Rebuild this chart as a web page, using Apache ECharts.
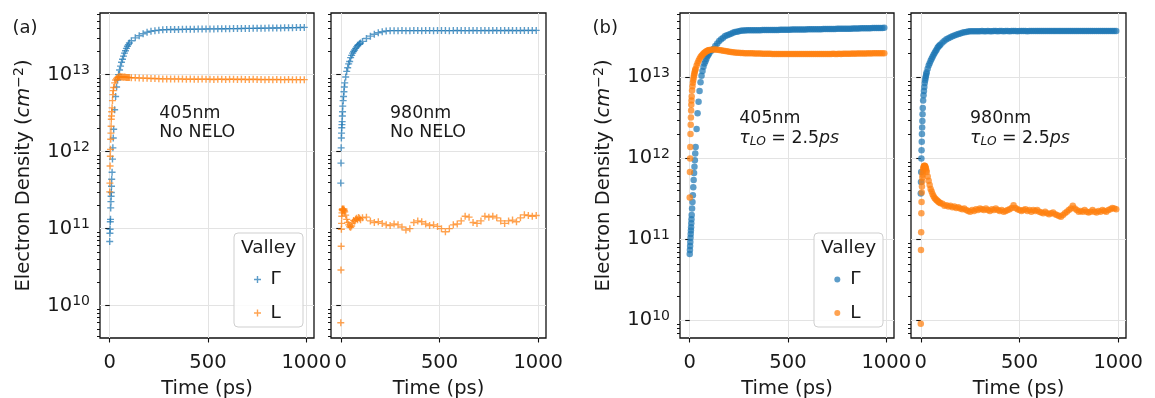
<!DOCTYPE html>
<html><head><meta charset="utf-8">
<script src="https://cdn.jsdelivr.net/npm/echarts@6/dist/echarts.min.js"></script>
<style>html,body{margin:0;padding:0;background:#fff}#c{width:1155px;height:398px}</style>
</head><body><div id="c"></div><script>
// ---------------- data ----------------
const tA = [0,1,2,3,4,5,6,7,8,9,10,12,14,16,18,20,25,30,35,40,45,50,55,60,65,70,75,80,85,90,95,100,
  110,130,150,170,190,210,230,250,270,290,310,330,350,370,390,410,430,450,470,490,510,530,550,570,590,
  610,630,650,670,690,710,730,750,770,790,810,830,850,870,890,910,930,950,970,990];
const gamma405a = [6.8e10,8.7e10,9.8e10,1.23e11,1.32e11,1.86e11,2.24e11,2.63e11,2.95e11,3.55e11,4.37e11,
  5.4e11,8.0e11,1.12e12,1.5e12,1.95e12,
  3.5e12,5.2e12,6.9e12,8.5e12,1.0e13,1.15e13,1.29e13,1.45e13,1.58e13,1.74e13,1.9e13,2.04e13,2.19e13,2.34e13,2.45e13,2.57e13,
  2.75e13,3.0e13,3.2e13,3.4e13,3.55e13,3.65e13,3.72e13,3.78e13,3.82e13,3.84e13,
  3.85e13,3.86e13,3.86e13,3.87e13,3.88e13,3.88e13,3.89e13,3.9e13,3.9e13,3.91e13,3.92e13,3.92e13,3.93e13,3.94e13,3.94e13,
  3.95e13,3.96e13,3.96e13,3.97e13,3.98e13,3.98e13,3.99e13,4.0e13,4.0e13,4.01e13,4.02e13,4.03e13,4.03e13,4.04e13,4.05e13,
  4.06e13,4.07e13,4.08e13,4.09e13,4.1e13];
const L405a = [3.0e11,3.9e11,6.5e11,8.7e11,1.07e12,1.45e12,1.74e12,2.14e12,2.63e12,2.9e12,3.3e12,
  3.7e12,4.6e12,5.5e12,6.2e12,6.8e12,
  7.8e12,8.5e12,8.9e12,9.2e12,9.3e12,9.35e12,9.35e12,9.3e12,9.3e12,9.25e12,9.3e12,9.25e12,9.2e12,9.2e12,9.2e12,9.15e12,
  9.1e12,9.1e12,9.05e12,9.0e12,8.95e12,8.9e12,8.9e12,8.85e12,8.8e12,8.8e12,8.8e12,8.75e12,8.8e12,8.75e12,8.7e12,
  8.75e12,8.7e12,8.7e12,8.75e12,8.7e12,8.7e12,8.65e12,8.7e12,8.7e12,8.65e12,8.7e12,8.7e12,8.65e12,8.7e12,8.65e12,
  8.65e12,8.7e12,8.65e12,8.65e12,8.6e12,8.65e12,8.6e12,8.65e12,8.6e12,8.6e12,8.65e12,8.6e12,8.6e12,8.6e12,8.6e12];
const gamma980a = [3.9e11,7.1e11,1.12e12,1.5e12,1.74e12,2.04e12,2.24e12,2.45e12,2.9e12,3.3e12,3.9e12,
  4.6e12,5.2e12,6.0e12,6.9e12,7.8e12,
  9.3e12,1.1e13,1.23e13,1.38e13,1.48e13,1.66e13,1.78e13,1.9e13,2.0e13,2.09e13,2.19e13,2.29e13,2.4e13,2.45e13,2.51e13,2.57e13,
  2.7e13,2.95e13,3.16e13,3.35e13,3.5e13,3.6e13,3.68e13,3.72e13,
  3.72e13,3.72e13,3.73e13,3.72e13,3.72e13,3.73e13,3.73e13,3.72e13,3.73e13,3.73e13,3.72e13,3.73e13,3.73e13,3.73e13,3.72e13,
  3.73e13,3.74e13,3.73e13,3.73e13,3.73e13,3.74e13,3.73e13,3.73e13,3.74e13,3.73e13,3.74e13,3.74e13,3.73e13,3.74e13,3.74e13,
  3.74e13,3.73e13,3.74e13,3.74e13,3.75e13,3.74e13,3.75e13];
const L980a = [6.0e9,2.9e10,5.9e10,9.8e10,1.17e11,1.45e11,1.6e11,1.78e11,1.72e11,1.8e11,1.75e11,
  1.78e11,1.7e11,1.8e11,1.72e11,1.65e11,
  1.5e11,1.32e11,1.2e11,1.12e11,1.06e11,1.04e11,1.08e11,1.18e11,1.28e11,1.25e11,1.32e11,1.36e11,1.3e11,1.4e11,1.36e11,1.3e11,
  1.38e11,1.41e11,1.26e11,1.2e11,1.23e11,1.17e11,1.12e11,1.1e11,1.15e11,1.12e11,1.05e11,9.6e10,1.0e11,1.2e11,1.26e11,
  1.23e11,1.15e11,1.1e11,1.12e11,1.07e11,1.0e11,9.1e10,1.0e11,1.12e11,1.15e11,1.26e11,1.45e11,1.41e11,1.2e11,1.17e11,
  1.26e11,1.45e11,1.41e11,1.45e11,1.38e11,1.26e11,1.17e11,1.26e11,1.29e11,1.23e11,1.38e11,1.51e11,1.48e11,1.45e11,1.48e11];

const tB = [0,1,2,3,4,5,6,7,8,9,10,12,14,16,18,20,22,24,26,28,30,35,40,45,50,55,60,65,70,75,80,85,90,95,100,
  110,120,130,140,150,160,170,180,190,200,210,220,230,240,250,260,270,280,290,300,310,320,330,340,350,
  360,370,380,390,400,410,420,430,440,450,460,470,480,490,500,510,520,530,540,550,560,570,580,590,600,
  610,620,630,640,650,660,670,680,690,700,710,720,730,740,750,760,770,780,790,800,810,820,830,840,850,
  860,870,880,890,900,910,920,930,940,950,960,970,980,990];
const gamma405b = [6.6e10,7.4e10,8.3e10,9.3e10,1.05e11,1.17e11,1.29e11,1.41e11,1.58e11,1.78e11,2.0e11,
  2.4e11,2.9e11,3.5e11,4.4e11,5.4e11,6.6e11,7.9e11,9.5e11,1.15e12,1.38e12,
  2.3e12,3.6e12,5.0e12,6.8e12,8.7e12,1.05e13,1.2e13,1.35e13,1.48e13,1.58e13,1.7e13,1.82e13,1.9e13,2.0e13,
  2.14e13,2.24e13,2.45e13,2.63e13,2.82e13,2.95e13,3.09e13,3.24e13,3.31e13,3.39e13,3.47e13,3.55e13,3.63e13,3.67e13,3.72e13,3.76e13,3.8e13,
  3.8e13,3.81e13,3.81e13,3.82e13,3.82e13,3.82e13,3.83e13,3.83e13,
  3.83e13,3.84e13,3.84e13,3.84e13,3.85e13,3.85e13,3.85e13,3.86e13,
  3.86e13,3.86e13,3.87e13,3.87e13,3.87e13,3.88e13,3.88e13,3.88e13,
  3.89e13,3.89e13,3.89e13,3.9e13,3.9e13,3.9e13,3.91e13,3.91e13,
  3.92e13,3.92e13,3.92e13,3.93e13,3.93e13,3.94e13,3.94e13,3.94e13,
  3.95e13,3.95e13,3.96e13,3.96e13,3.96e13,3.97e13,3.97e13,3.98e13,
  3.98e13,3.98e13,3.99e13,3.99e13,4.0e13,4.0e13,4.0e13,4.01e13,
  4.01e13,4.02e13,4.02e13,4.03e13,4.03e13,4.04e13,4.04e13,4.05e13,
  4.05e13,4.06e13,4.06e13,4.07e13,4.07e13,4.08e13,4.08e13,4.09e13];
const L405b = [3.3e11,6.8e11,1.0e12,1.38e12,2.0e12,2.6e12,3.2e12,3.9e12,4.6e12,5.2e12,5.8e12,
  6.9e12,7.8e12,8.6e12,9.3e12,1.0e13,1.06e13,1.12e13,1.18e13,1.23e13,1.28e13,
  1.4e13,1.51e13,1.61e13,1.7e13,1.78e13,1.85e13,1.91e13,1.97e13,2.02e13,2.06e13,2.1e13,2.13e13,2.16e13,2.18e13,
  2.2e13,2.21e13,2.21e13,2.2e13,2.18e13,2.16e13,2.14e13,2.12e13,2.1e13,2.08e13,2.06e13,2.05e13,2.03e13,2.02e13,2.01e13,2.0e13,2.0e13,
  1.99e13,1.99e13,1.98e13,1.98e13,1.98e13,1.97e13,1.97e13,1.97e13,
  1.97e13,1.96e13,1.96e13,1.96e13,1.96e13,1.96e13,1.95e13,1.95e13,
  1.95e13,1.95e13,1.95e13,1.95e13,1.95e13,1.95e13,1.94e13,1.95e13,
  1.95e13,1.94e13,1.94e13,1.95e13,1.94e13,1.94e13,1.94e13,1.94e13,
  1.95e13,1.94e13,1.94e13,1.94e13,1.95e13,1.94e13,1.94e13,1.95e13,
  1.95e13,1.95e13,1.95e13,1.95e13,1.95e13,1.96e13,1.95e13,1.95e13,
  1.96e13,1.95e13,1.96e13,1.96e13,1.96e13,1.96e13,1.96e13,1.97e13,
  1.96e13,1.97e13,1.97e13,1.97e13,1.97e13,1.97e13,1.97e13,1.98e13,
  1.97e13,1.98e13,1.98e13,1.98e13,1.98e13,1.98e13,1.98e13,1.98e13];
const gamma980b = [3.7e11,5.1e11,6.8e11,1.0e12,1.26e12,1.6e12,2.0e12,2.4e12,2.9e12,3.5e12,4.2e12,
  5.2e12,6.0e12,6.8e12,7.6e12,8.5e12,9.2e12,9.8e12,1.04e13,1.1e13,1.16e13,
  1.28e13,1.4e13,1.5e13,1.6e13,1.7e13,1.8e13,1.9e13,2.0e13,2.1e13,2.2e13,2.32e13,2.4e13,2.48e13,2.55e13,
  2.7e13,2.83e13,2.95e13,3.05e13,3.14e13,3.22e13,3.3e13,3.37e13,3.43e13,3.49e13,3.55e13,3.6e13,3.64e13,3.68e13,3.71e13,3.72e13,3.72e13,
  3.72e13,3.72e13,3.72e13,3.73e13,3.72e13,3.72e13,3.73e13,3.72e13,
  3.72e13,3.73e13,3.73e13,3.72e13,3.73e13,3.73e13,3.72e13,3.73e13,
  3.73e13,3.72e13,3.73e13,3.73e13,3.73e13,3.72e13,3.73e13,3.73e13,
  3.73e13,3.73e13,3.72e13,3.73e13,3.73e13,3.73e13,3.73e13,3.74e13,
  3.73e13,3.73e13,3.73e13,3.74e13,3.73e13,3.73e13,3.74e13,3.73e13,
  3.73e13,3.74e13,3.73e13,3.74e13,3.73e13,3.74e13,3.74e13,3.73e13,
  3.74e13,3.74e13,3.73e13,3.74e13,3.74e13,3.74e13,3.73e13,3.74e13,
  3.74e13,3.74e13,3.74e13,3.73e13,3.74e13,3.74e13,3.74e13,3.74e13,
  3.74e13,3.74e13,3.75e13,3.74e13,3.74e13,3.74e13,3.75e13,3.74e13];
const L980b = [9.1e9,7.4e10,1.23e11,2.1e11,2.9e11,3.8e11,4.5e11,5.2e11,5.8e11,6.3e11,6.8e11,
  7.4e11,7.8e11,8.0e11,8.1e11,8.1e11,8.0e11,7.8e11,7.5e11,7.1e11,6.8e11,
  6.0e11,5.3e11,4.7e11,4.2e11,3.9e11,3.6e11,3.4e11,3.25e11,3.15e11,3.05e11,3.0e11,2.9e11,2.85e11,2.8e11,
  2.75e11,2.6e11,2.65e11,2.55e11,2.6e11,
  2.5e11,2.55e11,2.45e11,2.5e11,2.4e11,
  2.35e11,2.4e11,2.3e11,2.25e11,2.2e11,2.3e11,
  2.25e11,2.35e11,2.3e11,2.4e11,
  2.35e11,2.3e11,2.4e11,2.3e11,2.25e11,2.35e11,2.3e11,2.4e11,2.3e11,
  2.25e11,2.3e11,2.2e11,2.25e11,2.3e11,
  2.35e11,2.45e11,2.65e11,2.45e11,2.35e11,
  2.3e11,2.25e11,2.3e11,2.35e11,2.25e11,2.3e11,2.2e11,2.3e11,2.25e11,2.3e11,2.2e11,
  2.15e11,2.1e11,2.2e11,2.1e11,2.05e11,2.1e11,2.15e11,2.05e11,2.0e11,1.95e11,
  1.9e11,2.0e11,2.1e11,2.2e11,2.3e11,2.4e11,
  2.6e11,2.4e11,2.3e11,2.2e11,
  2.25e11,2.2e11,2.3e11,2.2e11,2.15e11,2.2e11,2.3e11,
  2.2e11,2.15e11,2.25e11,2.2e11,2.3e11,2.25e11,2.2e11,2.3e11,2.35e11,2.45e11,2.4e11,2.35e11];

const xTicks = [0, 500, 1000];
const yMajorExp = [10, 11, 12, 13];
const xRange = [-49.5, 1039.5];
const yRangeA = [9.58, 13.80];   // log10 extents, panel (a)
const yRangeB = [9.783, 13.795]; // log10 extents, panel (b)
const annotations = ['405nm\nNo NELO', '980nm\nNo NELO'];

// ---------------- styling ----------------
const FONT = 'DejaVu Sans';
const TXT = '#1a1a1a';
const BLUE = '#1f77b4', ORANGE = '#ff7f0e';
const GRIDC = '#e3e3e3';
const PLUS = 'path://M-1.4,-7 H1.4 V-1.4 H7 V1.4 H1.4 V7 H-1.4 V1.4 H-7 V-1.4 H-1.4 Z';

const grids = [
  {left: 100, top: 13, width: 214, height: 325},
  {left: 331, top: 13, width: 215, height: 325},
  {left: 680, top: 13, width: 214, height: 325},
  {left: 911, top: 13, width: 215, height: 325}
].map(g => Object.assign({show: true, borderColor: '#111', borderWidth: 1.3, backgroundColor: 'transparent',
  containLabel: false, outerBoundsMode: 'none'}, g));

function minorTicks(r) {
  const out = [];
  for (let n = 9; n <= 13; n++) for (let k = 2; k <= 9; k++) {
    const v = n + Math.log10(k);
    if (v >= r[0] && v <= r[1]) out.push(v);
  }
  return out;
}

const xAxes = grids.map((g, i) => ({
  type: 'value', gridIndex: i, min: xRange[0], max: xRange[1], splitNumber: 2,
  axisLine: {show: false},
  axisTick: {show: true, customValues: xTicks, length: 4.5, lineStyle: {color: '#111', width: 1.1}},
  axisLabel: {customValues: xTicks, fontSize: 19.5, color: TXT, margin: 15, fontFamily: FONT,
    formatter: v => String(Math.round(v))},
  splitLine: {show: true, lineStyle: {color: GRIDC, width: 1}},
  name: 'Time (ps)', nameLocation: 'middle', nameGap: 41, nameMoveOverlap: false,
  nameTextStyle: {fontSize: 19.5, color: TXT, fontFamily: FONT}
}));

const yName = '{n|Electron Density (}{i|cm}{s|\u22122}{n|)}';
const yNameRich = {
  n: {fontSize: 19.5, fontFamily: FONT, color: TXT, lineHeight: 24},
  i: {fontSize: 19.5, fontFamily: FONT, fontStyle: 'italic', color: TXT, lineHeight: 24},
  s: {fontSize: 14, fontFamily: FONT, color: TXT, verticalAlign: 'top'}
};

const yAxes = [];
grids.forEach((g, i) => {
  const r = i < 2 ? yRangeA : yRangeB;
  const showLab = (i === 0 || i === 2);
  yAxes.push({
    type: 'value', gridIndex: i, position: 'left', min: r[0], max: r[1],
    axisLine: {show: false},
    axisTick: {show: true, customValues: yMajorExp, length: 4.5, lineStyle: {color: '#111', width: 1.1}},
    axisLabel: {
      show: showLab, customValues: yMajorExp, margin: 10,
      formatter: v => '{b|10}{s|' + Math.round(v) + '}',
      rich: {
        b: {fontSize: 19.5, fontFamily: FONT, color: TXT, lineHeight: 23},
        s: {fontSize: 14, fontFamily: FONT, color: TXT, verticalAlign: 'top'}
      }
    },
    splitLine: {show: true, lineStyle: {color: GRIDC, width: 1}},
    name: showLab ? yName : '', nameLocation: 'middle', nameGap: 64, nameMoveOverlap: false,
    nameTextStyle: {rich: yNameRich, fontFamily: FONT}
  });
  yAxes.push({
    type: 'value', gridIndex: i, position: 'left', min: r[0], max: r[1],
    axisLine: {show: false},
    axisTick: {show: true, customValues: minorTicks(r), length: 3, lineStyle: {color: '#111', width: 1}},
    axisLabel: {show: false}, splitLine: {show: false}
  });
});

function sc(name, gi, ts, vs, sym, size, color) {
  return {
    type: 'scatter', name, xAxisIndex: gi, yAxisIndex: gi * 2,
    data: ts.map((t, k) => [t, Math.log10(vs[k])]),
    symbol: sym, symbolSize: size,
    itemStyle: {color, opacity: 0.72}, silent: true, emphasis: {disabled: true}
  };
}

const series = [
  sc('\u0393', 0, tA, gamma405a, PLUS, 7, BLUE),
  sc('L', 0, tA, L405a, PLUS, 7, ORANGE),
  sc('\u0393', 1, tA, gamma980a, PLUS, 7, BLUE),
  sc('L', 1, tA, L980a, PLUS, 7, ORANGE),
  sc('\u0393', 2, tB, gamma405b, 'circle', 6.5, BLUE),
  sc('L', 2, tB, L405b, 'circle', 6.5, ORANGE),
  sc('\u0393', 3, tB, gamma980b, 'circle', 6.5, BLUE),
  sc('L', 3, tB, L980b, 'circle', 6.5, ORANGE)
];

function legendAt(left, icon, h) {
  return {
    left, top: 268.5, orient: 'vertical', padding: 0, itemGap: 11.5,
    itemWidth: 16, itemHeight: h, selectedMode: false,
    data: [{name: '\u0393', icon}, {name: 'L', icon}],
    textStyle: {fontSize: 18.5, color: TXT, fontFamily: FONT, lineHeight: 22}
  };
}

const legendBox = x => ({type: 'rect', x, y: 233, z: 3, shape: {width: 69, height: 94, r: 4},
  style: {fill: 'rgba(255,255,255,0.85)', stroke: '#cfcfcf', lineWidth: 1}});
const plainText = (x, y, text, size, extra) => ({type: 'text', x, y, z: 5,
  style: Object.assign({text, fontSize: size, fontFamily: FONT, fill: TXT}, extra || {})});
const tauRich = {
  n: {fontSize: 17.4, fontFamily: FONT, fill: TXT, lineHeight: 20},
  it: {fontSize: 17.4, fontFamily: FONT, fontStyle: 'italic', fill: TXT, lineHeight: 20},
  sub: {fontSize: 12.2, fontFamily: FONT, fontStyle: 'italic', fill: TXT, verticalAlign: 'bottom'}
};
const tauText = (x, wl) => ({type: 'text', x, y: 108, z: 5, style: {
  text: '{n|' + wl + '}\n{it|\u03c4}{sub|LO}{n| = 2.5}{it|ps}', rich: tauRich,
  fontSize: 17.4, fontFamily: FONT, fill: TXT, verticalAlign: 'top'}});

const chart = echarts.init(document.getElementById('c'), null, {renderer: 'canvas'});
chart.setOption({
  animation: false,
  backgroundColor: '#fff',
  textStyle: {fontFamily: FONT},
  grid: grids, xAxis: xAxes, yAxis: yAxes, series,
  legend: [legendAt(254, PLUS, 7), legendAt(834.3, 'circle', 6)],
  graphic: [
    plainText(12.5, 28, '(a)', 18, {verticalAlign: 'middle'}),
    plainText(592.5, 28, '(b)', 18, {verticalAlign: 'middle'}),
    plainText(159.3, 104, annotations[0], 17.4, {lineHeight: 19.3, verticalAlign: 'top'}),
    plainText(390, 104, annotations[1], 17.4, {lineHeight: 19.3, verticalAlign: 'top'}),
    tauText(739.3, '405nm'),
    tauText(970, '980nm'),
    legendBox(234), legendBox(814),
    plainText(268.5, 248, 'Valley', 18.5, {align: 'center', verticalAlign: 'middle'}),
    plainText(848.5, 248, 'Valley', 18.5, {align: 'center', verticalAlign: 'middle'})
  ]
});
</script></body></html>
